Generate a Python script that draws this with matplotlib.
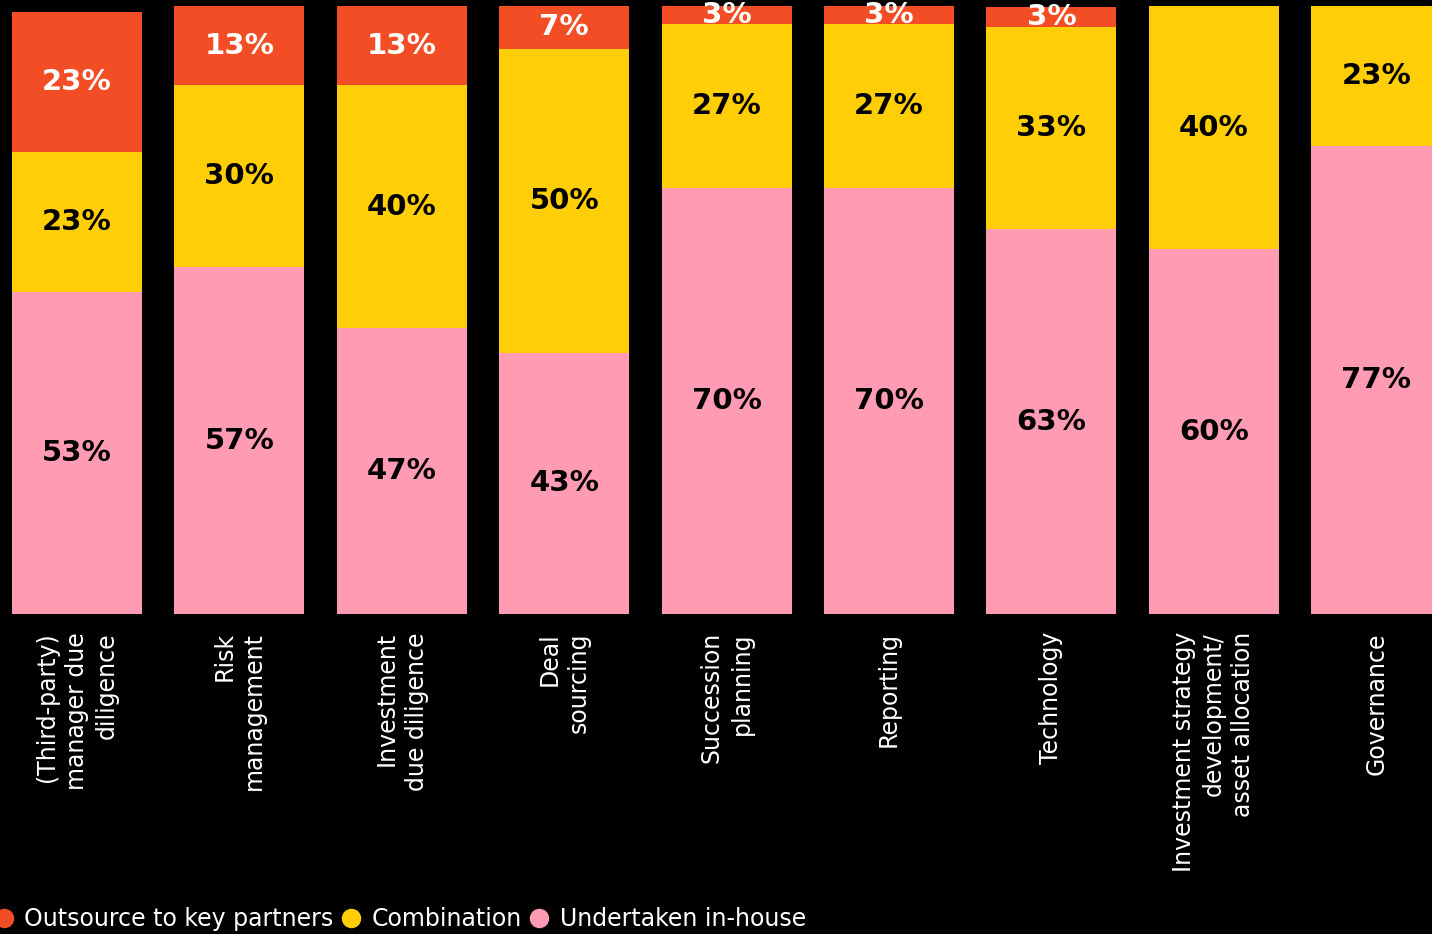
import numpy as np
from matplotlib import pyplot as plt
from matplotlib.lines import Line2D

categorias = ['(Third-party)\nmanager due\ndiligence', 'Risk\nmanagement',
              'Investment\ndue diligence', 'Deal\nsourcing',
              'Succession\nplanning', 'Reporting', 'Technology',
              'Investment strategy\ndevelopment/\nasset allocation',
              'Governance']

inhouse = [53, 57, 47, 43, 70, 70, 63.3, 60, 77]
combinacion = [23, 30, 40, 50, 27, 27, 33.3, 40, 23]
outsource = [23, 13, 13, 7, 3, 3, 3.3, 0, 0]

series = ['Outsource to key partners', 'Combination', 'Undertaken in-house']

c_out = '#F34D25'
c_comb = '#FFCE06'
c_in = '#FF9BB3'

fig = plt.figure(figsize=(14.32, 9.34), dpi=100, facecolor='black')
ax = fig.add_axes([0, 1 - 614 / 934, 1, 614 / 934])
ax.set_facecolor('black')

x = np.arange(len(categorias))
ancho = 0.8

inhouse = np.array(inhouse)
combinacion = np.array(combinacion)
outsource = np.array(outsource)

capas = [(inhouse, np.zeros(len(x)), c_in, 'black'),
         (combinacion, inhouse, c_comb, 'black'),
         (outsource, inhouse + combinacion, c_out, 'white')]

for valores, base, color, ctexto in capas:
    ax.bar(x, valores, ancho, bottom=base, color=color, linewidth=0)
    for xi, v, b in zip(x, valores, base):
        if v > 0:
            ax.text(xi, b + v / 2, f'{v:.0f}%', ha='center', va='center',
                    fontsize=21, fontweight='bold', color=ctexto)

ax.set_xlim(-77 / 162.4, (1432 - 77) / 162.4)
ax.set_ylim(0, 101)
ax.set_yticks([])
ax.set_xticks(x)
ax.set_xticklabels(categorias, rotation=90, ha='center', va='top',
                   multialignment='right', fontsize=17, color='white',
                   linespacing=1.3)
ax.tick_params(axis='x', length=0, pad=13)
for s in ax.spines.values():
    s.set_visible(False)

handles = [Line2D([], [], marker='o', linestyle='None', markersize=13,
                  markerfacecolor=c, markeredgecolor=c)
           for c in [c_out, c_comb, c_in]]
fig.legend(handles, series, loc='center left',
           bbox_to_anchor=(-0.0055, 15 / 934), ncol=3, frameon=False,
           fontsize=17, labelcolor='white', handlelength=1,
           handletextpad=0.36, columnspacing=0.25, borderpad=0,
           borderaxespad=0)

plt.savefig('out.png', dpi=100, facecolor='black')
